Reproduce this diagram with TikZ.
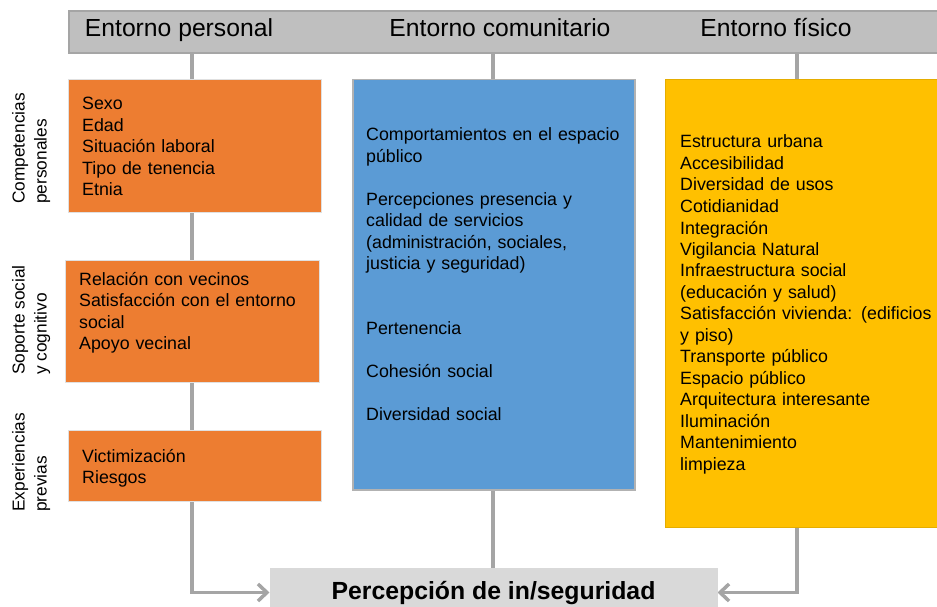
\documentclass[tikz,border=0pt]{standalone}
\usepackage{fontspec}
\setmainfont{Liberation Sans}
\usepackage{xcolor}
\usepackage{tikz}
\usetikzlibrary{arrows.meta,backgrounds}

\definecolor{persOrange}{HTML}{ED7D31}
\definecolor{comBlue}{HTML}{5B9BD5}
\definecolor{fisYellow}{HTML}{FFC000}
\definecolor{headGray}{HTML}{BFBFBF}
\definecolor{footGray}{HTML}{D9D9D9}
\definecolor{lineGray}{HTML}{A5A5A5}

\begin{document}
\begin{tikzpicture}[x=1pt,y=-1pt]
    % Define styles
    \tikzstyle{header} = [rectangle, anchor=north west, inner sep=0pt, minimum width=875pt, minimum height=42pt, draw=lineGray, line width=2pt, fill=headGray]
    \tikzstyle{heading} = [anchor=base, inner sep=0pt, font=\fontsize{24.7pt}{29pt}\selectfont]
    \tikzstyle{block} = [rectangle, anchor=north west, inner sep=0pt, draw=white!88!black, line width=1pt]
    \tikzstyle{items} = [anchor=base west, inner sep=0pt, align=left, text width=270pt, font=\fontsize{17.8pt}{21.5pt}\selectfont]
    \tikzstyle{side} = [anchor=north west, inner sep=0pt, rotate=90, align=left, font=\fontsize{17.3pt}{22pt}\selectfont]
    \tikzstyle{result} = [rectangle, anchor=north, inner sep=0pt, minimum width=447pt, minimum height=48pt, text height=18pt, text depth=5pt, fill=footGray, draw=white!85!black, line width=1pt, font=\bfseries\fontsize{24.8pt}{29pt}\selectfont]
    \tikzstyle{link} = [draw=lineGray, line width=3.5pt]
    \tikzstyle{arrow} = [link, -{Straight Barb[length=9pt,width=17pt]}]

    \useasboundingbox (0,0) rectangle (937,607);

    % Header
    \node (bar) [header] at (68,10) {};
    \node (tPersonal) [heading] at (179,37) {Entorno personal};
    \node (tComunitario) [heading] at (500,37) {Entorno comunitario};
    \node (tFisico) [heading] at (776,37) {Entorno físico};

    \coordinate (colP) at (192,51);
    \coordinate (colC) at (493,51);
    \coordinate (colF) at (797,51);

    % Boxes
    \node (competencias) [block, fill=persOrange, minimum width=253pt, minimum height=133pt] at (68,79) {};
    \node (soporte) [block, fill=persOrange, minimum width=254pt, minimum height=122pt] at (65,260) {};
    \node (experiencias) [block, fill=persOrange, minimum width=253pt, minimum height=71pt] at (68,430) {};
    \node (comBox) [block, fill=comBlue, draw=black!30, line width=1.5pt, minimum width=282pt, minimum height=410pt] at (352,79) {};
    \node (fisBox) [block, fill=fisYellow, draw=fisYellow!90!black, minimum width=280pt, minimum height=448pt] at (665,79) {};
    \node (percepcion) [result] at (493.5,568) {Percepción de in/seguridad};

    % Texts
    \node (competenciasList) [items] at (82,110) {Sexo\\Edad\\Situación laboral\\Tipo de tenencia\\Etnia};
    \node (soporteList) [items] at (79,285) {Relación con vecinos\\Satisfacción con el entorno\\social\\Apoyo vecinal};
    \node (experienciasList) [items] at (82,462) {Victimización\\Riesgos};
    \node (comList) [items] at (366,141) {Comportamientos en el espacio\\público\\[21.5pt]Percepciones presencia y\\calidad de servicios\\(administración, sociales,\\justicia y seguridad)\\[43pt]Pertenencia\\[21.5pt]Cohesión social\\[21.5pt]Diversidad social};
    \node (fisList) [items] at (680,148) {Estructura urbana\\Accesibilidad\\Diversidad de usos\\Cotidianidad\\Integración\\Vigilancia Natural\\Infraestructura social\\(educación y salud)\\Satisfacción vivienda: (edificios\\y piso)\\Transporte público\\Espacio público\\Arquitectura interesante\\Iluminación\\Mantenimiento\\limpieza};

    \node (sideCompetencias) [side] at (12,204) {Competencias\\personales};
    \node (sideSoporte) [side] at (12,375) {Soporte social\\y cognitivo};
    \node (sideExperiencias) [side] at (12,512) {Experiencias\\previas};

    % Arrows
    \begin{scope}[on background layer]
        \draw [arrow] (colP) |- (percepcion.west);
        \draw [link] (colC) -- (colC |- percepcion.north);
        \draw [arrow] (colF) |- (percepcion.east);
    \end{scope}
\end{tikzpicture}
\end{document}
